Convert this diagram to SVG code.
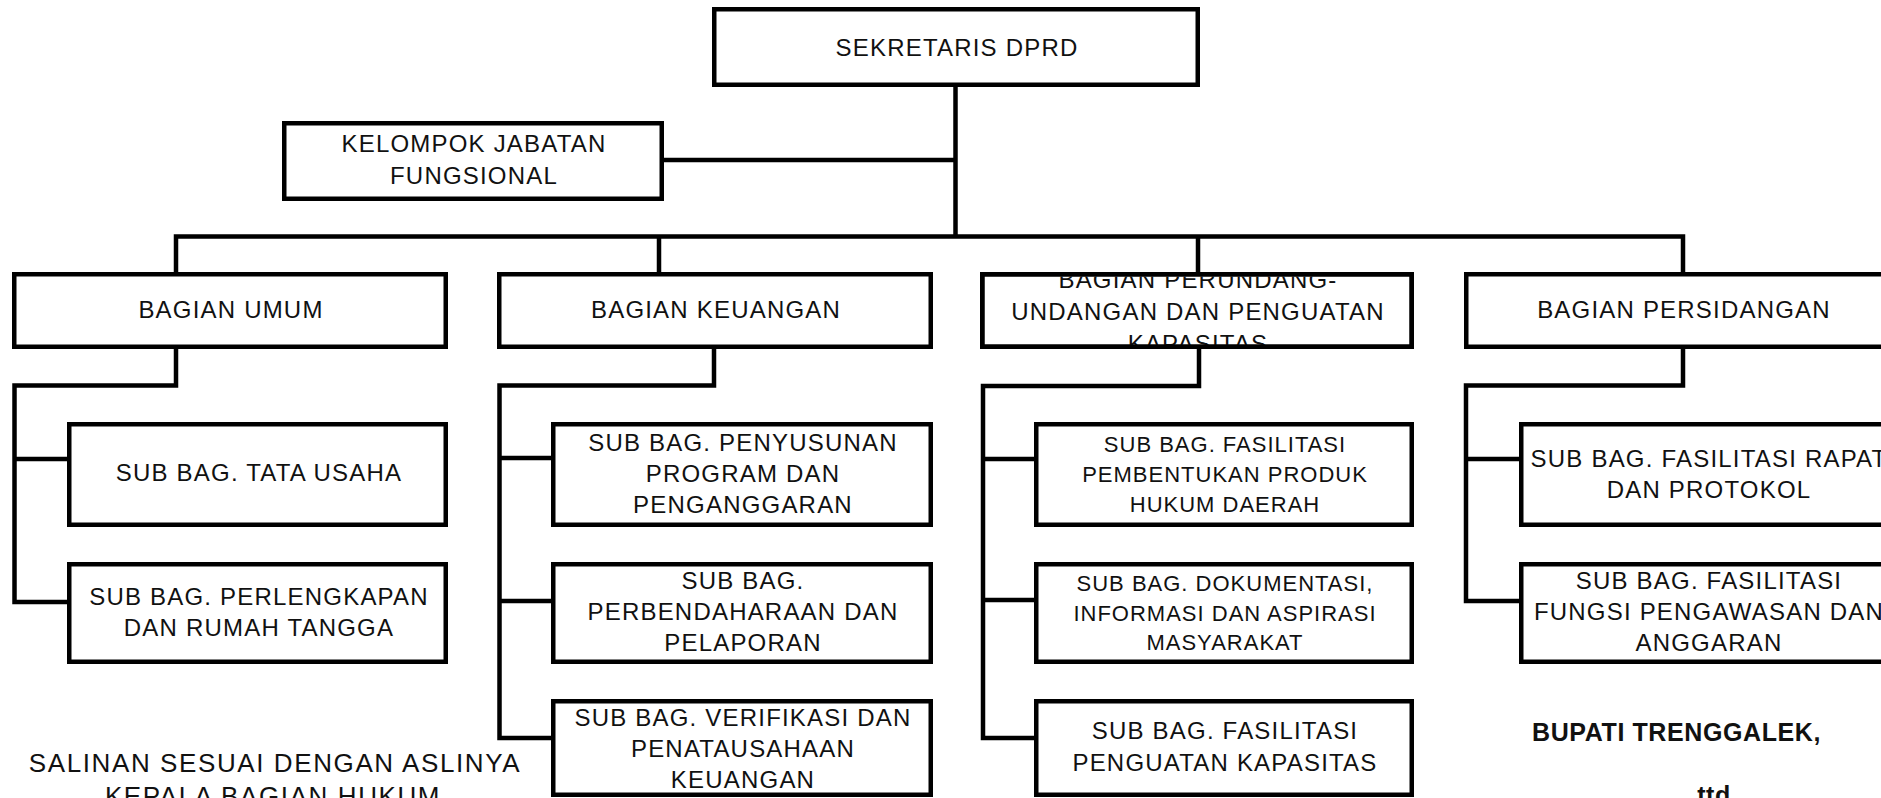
<svg xmlns="http://www.w3.org/2000/svg" width="1881" height="798" viewBox="0 0 1881 798">
<style>
.bx{fill:#fff;stroke:#000;stroke-width:4.5}
.ln{fill:none;stroke:#000;stroke-width:4.5;stroke-linecap:square}
.t{font-family:"Liberation Sans",Arial,sans-serif;font-size:24px;letter-spacing:1.2px;fill:#111;text-anchor:middle}
.s{font-size:22px;letter-spacing:1px}
.f{font-family:"Liberation Sans",Arial,sans-serif;font-size:26px;letter-spacing:1.6px;fill:#111;text-anchor:middle}
.b{font-family:"Liberation Sans",Arial,sans-serif;font-size:25px;font-weight:bold;letter-spacing:0.6px;fill:#111}
</style>
<defs>
<clipPath id="clipPer"><rect x="984.5" y="276.5" width="427" height="70.5"/></clipPath>
</defs>
<rect width="1881" height="798" fill="#fff"/>
<g id="connectors">
<path class="ln" d="M955.5 87V236.5M664 160H955.5M176 236.5H1683M176 236.5V272M659 236.5V272M1198 236.5V272M1683 236.5V272"/>
<path class="ln" d="M176 349V385.5H14.5V602M14.5 459H67M14.5 602H67"/>
<path class="ln" d="M714 349V385.5H499.5V738M499.5 458H551M499.5 601H551M499.5 738H551"/>
<path class="ln" d="M1199 349V386H983V738M983 459H1034M983 600H1034M983 738H1034"/>
<path class="ln" d="M1683 349V385.5H1466V601M1466 459H1519M1466 601H1519"/>
</g>
<g id="sekretaris"><rect class="bx" x="714.25" y="9.25" width="483.5" height="75.5"/><text class="t" x="957" y="56">SEKRETARIS DPRD</text></g>
<g id="kelompok"><rect class="bx" x="284.25" y="123.25" width="377.5" height="75.5"/><text class="t" x="474" y="152">KELOMPOK JABATAN</text><text class="t" x="474" y="184">FUNGSIONAL</text></g>
<g id="bagian-umum"><rect class="bx" x="14.25" y="274.25" width="431.5" height="72.5"/><text class="t" x="231" y="318">BAGIAN UMUM</text></g>
<g id="bagian-keuangan"><rect class="bx" x="499.25" y="274.25" width="431.5" height="72.5"/><text class="t" x="716" y="318">BAGIAN KEUANGAN</text></g>
<g id="bagian-perundang"><rect class="bx" x="982.25" y="274.25" width="429.5" height="72.5"/>
<g clip-path="url(#clipPer)"><text class="t" x="1198" y="288">BAGIAN PERUNDANG-</text><text class="t" x="1198" y="320">UNDANGAN DAN PENGUATAN</text><text class="t" x="1198" y="352">KAPASITAS</text></g>
<rect class="bx" x="982.25" y="274.25" width="429.5" height="72.5" style="fill:none"/></g>
<g id="bagian-persidangan"><rect class="bx" x="1466.25" y="274.25" width="433.5" height="72.5"/><text class="t" x="1684" y="318">BAGIAN PERSIDANGAN</text></g>
<g id="sub-tata-usaha"><rect class="bx" x="69.25" y="424.25" width="376.5" height="100.5"/><text class="t" x="259" y="481">SUB BAG. TATA USAHA</text></g>
<g id="sub-perlengkapan"><rect class="bx" x="69.25" y="564.25" width="376.5" height="97.5"/><text class="t" x="259" y="605">SUB BAG. PERLENGKAPAN</text><text class="t" x="259" y="636">DAN RUMAH TANGGA</text></g>
<g id="sub-penyusunan"><rect class="bx" x="553.25" y="424.25" width="377.5" height="100.5"/><text class="t" x="743" y="451">SUB BAG. PENYUSUNAN</text><text class="t" x="743" y="482">PROGRAM DAN</text><text class="t" x="743" y="513">PENGANGGARAN</text></g>
<g id="sub-perbendaharaan"><rect class="bx" x="553.25" y="564.25" width="377.5" height="97.5"/><text class="t" x="743" y="589">SUB BAG.</text><text class="t" x="743" y="620">PERBENDAHARAAN DAN</text><text class="t" x="743" y="651">PELAPORAN</text></g>
<g id="sub-verifikasi"><rect class="bx" x="553.25" y="701.25" width="377.5" height="93.5"/><text class="t" x="743" y="726">SUB BAG. VERIFIKASI DAN</text><text class="t" x="743" y="757">PENATAUSAHAAN</text><text class="t" x="743" y="788">KEUANGAN</text></g>
<g id="sub-pembentukan"><rect class="bx" x="1036.25" y="424.25" width="375.5" height="100.5"/><text class="t s" x="1225" y="452">SUB BAG. FASILITASI</text><text class="t s" x="1225" y="482">PEMBENTUKAN PRODUK</text><text class="t s" x="1225" y="512">HUKUM DAERAH</text></g>
<g id="sub-dokumentasi"><rect class="bx" x="1036.25" y="564.25" width="375.5" height="97.5"/><text class="t s" x="1225" y="591">SUB BAG. DOKUMENTASI,</text><text class="t s" x="1225" y="621">INFORMASI DAN ASPIRASI</text><text class="t s" x="1225" y="650">MASYARAKAT</text></g>
<g id="sub-penguatan"><rect class="bx" x="1036.25" y="701.25" width="375.5" height="93.5"/><text class="t" x="1225" y="739">SUB BAG. FASILITASI</text><text class="t" x="1225" y="771">PENGUATAN KAPASITAS</text></g>
<g id="sub-rapat"><rect class="bx" x="1521.25" y="424.25" width="378.5" height="100.5"/><text class="t" x="1709" y="467">SUB BAG. FASILITASI RAPAT</text><text class="t" x="1709" y="498">DAN PROTOKOL</text></g>
<g id="sub-pengawasan"><rect class="bx" x="1521.25" y="564.25" width="378.5" height="97.5"/><text class="t" x="1709" y="589">SUB BAG. FASILITASI</text><text class="t" x="1709" y="620">FUNGSI PENGAWASAN DAN</text><text class="t" x="1709" y="651">ANGGARAN</text></g>
<g id="salinan"><text class="f" x="275" y="772">SALINAN SESUAI DENGAN ASLINYA</text><text class="f" x="273" y="805">KEPALA BAGIAN HUKUM</text></g>
<g id="bupati"><text class="b" x="1532" y="741">BUPATI TRENGGALEK,</text><text class="b" x="1714" y="804" text-anchor="middle">ttd</text></g>
</svg>
